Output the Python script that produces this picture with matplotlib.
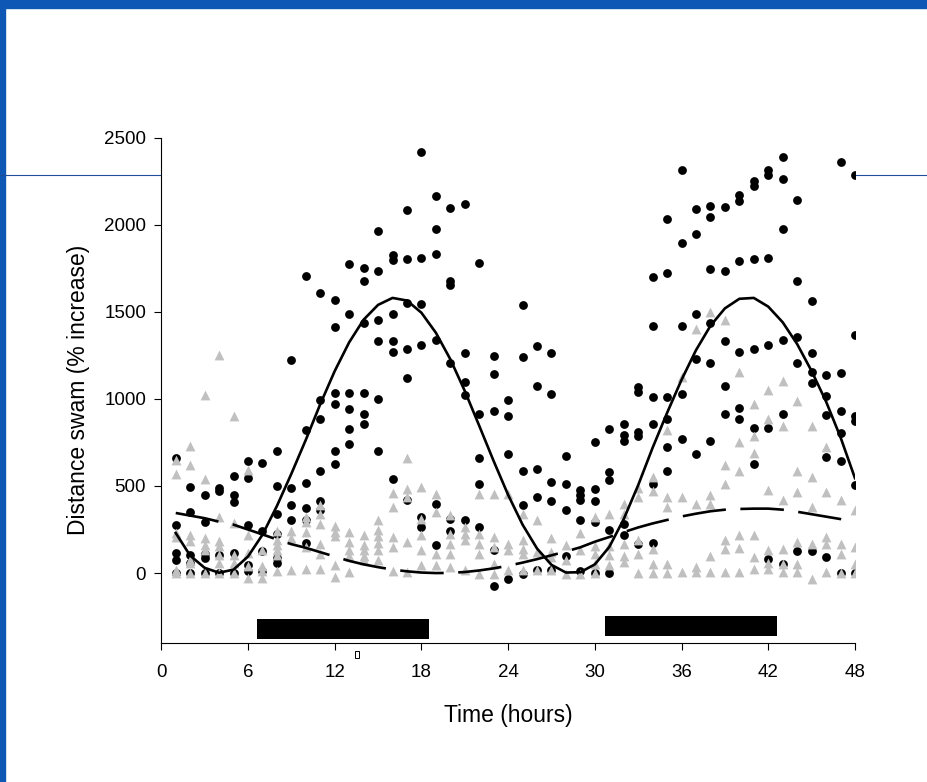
import matplotlib
matplotlib.use('Agg')
import matplotlib.pyplot as plt
from matplotlib.lines import Line2D
from matplotlib.patches import Rectangle

plt.rcParams['font.family'] = ['Liberation Sans', 'DejaVu Sans']

# sampling times (hours)
hours = [1, 2, 3, 4, 5, 6, 7, 8, 9, 10, 11, 12, 13, 14, 15, 16,
         17, 18, 19, 20, 21, 22, 23, 24, 25, 26, 27, 28, 29, 30, 31, 32,
         33, 34, 35, 36, 37, 38, 39, 40, 41, 42, 43, 44, 45, 46, 47, 48]

# black circles, one list per hour
circles = [
    [661, 278, 115, 77, 0], [492, 349, 105, 57, 0], [450, 293, 111, 86, 0],
    [489, 473, 105, 0], [556, 450, 408, 115, 0], [646, 546, 274, 48, 10],
    [632, 243, 125, 10], [699, 498, 341, 226, 86, 57], [1222, 490, 389, 307],
    [1705, 824, 519, 374, 307, 175], [1606, 992, 887, 586, 412, 360],
    [1567, 1414, 1035, 969, 701, 625], [1774, 1487, 1035, 945, 826, 740],
    [1749, 1678, 1437, 1035, 916, 855], [1966, 1736, 1452, 1334, 1002, 701],
    [1826, 1797, 1485, 1334, 1270, 540], [2083, 1801, 1552, 1286, 1123, 422],
    [2420, 1811, 1544, 1309, 324, 266], [2165, 1975, 1832, 1336, 398, 159],
    [2094, 1678, 1655, 1208, 312, 241], [2117, 1261, 1098, 1025, 307],
    [1778, 912, 663, 510, 264], [1247, 1146, 929, 130, -77],
    [996, 900, 682, -33], [1537, 1238, 586, 393, -4],
    [1303, 1075, 598, 437, 15], [1265, 1031, 521, 414, 15],
    [671, 510, 364, 96], [475, 446, 418, 303, 10], [753, 485, 414, 293, 0],
    [826, 581, 536, 245, 0], [858, 791, 759, 284, 217],
    [1069, 1040, 810, 786, 169], [1701, 1420, 1012, 855, 514, 172],
    [2031, 1721, 1012, 887, 724, 586], [2314, 1893, 1418, 1031, 772],
    [2088, 1947, 1487, 1232, 686], [2108, 2043, 1744, 1437, 1207, 759],
    [2100, 1732, 1334, 1077, 916], [2171, 2138, 1793, 1270, 948, 885],
    [2253, 2225, 1801, 1286, 832, 625], [2314, 2286, 1811, 1309, 832, 80],
    [2390, 2265, 1977, 1337, 914, 54], [2142, 1678, 1353, 1207, 126],
    [1563, 1261, 1153, 1094, 126], [1140, 1015, 910, 667, 92],
    [2359, 1150, 929, 805, 642, 0], [2284, 1366, 900, 872, 508, 0],
]

# grey triangles, one list per hour
triangles = [
    [650, 570, 230, 205, 20, 0], [732, 623, 220, 182, 77, 57, 0],
    [1021, 542, 201, 163, 134, 0], [1251, 322, 182, 153, 105, 57, 0],
    [904, 287, 105, 57, 0], [594, 220, 115, 38, -29], [134, 38, 10, -29],
    [240, 192, 163, 134, 105, 10], [240, 201, 20], [322, 293, 236, 149, 25],
    [389, 341, 280, 169, 111, 25], [268, 236, 211, 44, -23],
    [236, 178, 130, 96, 6], [217, 159, 130, 96, 73],
    [303, 245, 211, 172, 130, 73], [460, 379, 207, 149, 10],
    [663, 485, 437, 178, 6], [494, 312, 217, 130, 44], [456, 351, 111, 44],
    [331, 226, 169, 111, 34], [264, 226, 188, 15], [456, 226, 169, 107, -4],
    [456, 207, 149, 54, -4], [456, 169, 130, 15], [337, 188, 140, 111, 15],
    [307, 121, 15], [203, 121, 92, 15], [159, 73, -4], [230, 130, -4],
    [322, 153, 111, 54, 0], [341, 153, 102, 44], [399, 341, 169, 96, 63],
    [490, 437, 192, 111, 0], [552, 471, 140, 54, 0], [820, 437, 379, 54, 0],
    [1127, 437, 6], [1399, 398, 34, 6], [1500, 446, 398, 96, 6],
    [1452, 619, 510, 192, 140, 6], [1155, 751, 586, 216, 146, 6],
    [968, 786, 692, 216, 92, 25], [1050, 885, 479, 130, 57, 25],
    [1102, 845, 422, 140, 54, 6], [989, 586, 466, 178, 54, 6],
    [843, 552, 379, 169, -33], [724, 466, 207, 169, 6],
    [418, 169, 111, 0], [360, 149, 54, 0],
]

# fitted curves read at each hour
fit_solid = [230, 100, 30, 2, 20, 95, 220, 385, 570, 765, 970, 1160, 1325,
             1455, 1540, 1580, 1565, 1495, 1380, 1228, 1046, 846, 643, 449,
             278, 141, 47, 3, 5, 50, 150, 310, 505, 720, 920, 1110, 1280,
             1420, 1520, 1575, 1580, 1530, 1440, 1315, 1160, 985, 780, 545]
fit_dashed = [345, 330, 315, 295, 278, 250, 222, 193, 166, 145, 120, 95, 70,
              50, 34, 20, 10, 3, 0, 1, 6, 15, 27, 42, 60, 80, 102, 124, 148,
              180, 207, 235, 262, 285, 305, 325, 341, 355, 364, 368, 370, 370,
              364, 352, 338, 324, 310, 287]

# dark-phase bars
bar_start = [6.6, 30.7]
bar_end = [18.5, 42.6]
bar_low = [-377, -362]
bar_high = [-262, -247]

fig = plt.figure(figsize=(9.28, 7.82), dpi=100)

# page frame and stray rule
fig.patches.append(Rectangle((0, 1 - 8 / 782), 1, 8 / 782, transform=fig.transFigure,
                             color='#0f57b5', zorder=-2))
fig.patches.append(Rectangle((0, 0), 5 / 928, 1, transform=fig.transFigure,
                             color='#0f57b5', zorder=-2))
fig.add_artist(Line2D([0, 1], [1 - 175 / 782] * 2, transform=fig.transFigure,
                      color='#1f4e9a', lw=0.8, zorder=-1))

ax = fig.add_axes([0.1738, 0.1781, 0.7475, 0.6458])
ax.set_facecolor('white')

cx = [h for h, vals in zip(hours, circles) for _ in vals]
cy = [v for vals in circles for v in vals]
tx = [h for h, vals in zip(hours, triangles) for _ in vals]
ty = [v for vals in triangles for v in vals]

ax.scatter(cx, cy, s=40, marker='o', color='black', linewidths=0, zorder=2)
ax.scatter(tx, ty, s=50, marker='^', color='#c0c0c0', linewidths=0, zorder=3)

ax.plot(hours, fit_solid, color='black', lw=1.9, zorder=4)
ax.plot(hours, fit_dashed, color='black', lw=1.9, dashes=(16.5, 5.5), zorder=4)

for s, e, lo, hi in zip(bar_start, bar_end, bar_low, bar_high):
    ax.bar(s, hi - lo, width=e - s, bottom=lo, align='edge', color='black', zorder=2)

# small open box under the axis
ax.add_patch(Rectangle((13.37, -485), 0.3, 38, fill=False, lw=0.7,
                       edgecolor='black', clip_on=False))

ax.set_xlim(0, 48)
ax.set_ylim(-400, 2500)
ax.set_xticks([0, 6, 12, 18, 24, 30, 36, 42, 48])
ax.set_yticks([0, 500, 1000, 1500, 2000, 2500])
ax.spines['top'].set_visible(False)
ax.spines['right'].set_visible(False)
for side in ['left', 'bottom']:
    ax.spines[side].set_linewidth(0.8)
ax.tick_params(direction='out', length=5, width=0.8, labelsize=13.5)
ax.tick_params(axis='x', pad=10)
ax.tick_params(axis='y', pad=6)

ax.set_xlabel('Time (hours)', fontsize=16.5, labelpad=17)
ax.set_ylabel('Distance swam (% increase)', fontsize=16.5, labelpad=10)

fig.savefig('out.png', dpi=100)
